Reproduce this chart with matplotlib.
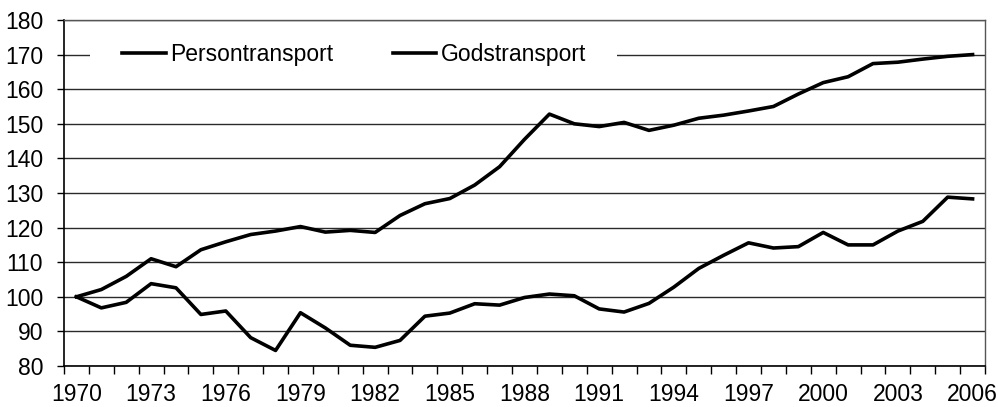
import numpy as np
import matplotlib.pyplot as plt
from matplotlib.patches import Rectangle

plt.rcParams['font.family'] = ['Liberation Sans', 'DejaVu Sans']

years = list(range(1970, 2007))
persontransport = [100, 102.1, 105.9, 111.0, 108.7, 113.6, 115.9, 118.0, 119.0, 120.3,
                   118.7, 119.2, 118.6, 123.5, 126.9, 128.4, 132.3, 137.6, 145.5, 152.8,
                   150.0, 149.2, 150.4, 148.1, 149.6, 151.6, 152.5, 153.7, 155.0, 158.6,
                   161.9, 163.6, 167.4, 167.8, 168.7, 169.5, 170.0]
godstransport = [100, 96.8, 98.4, 103.8, 102.6, 94.9, 95.9, 88.2, 84.5, 95.4,
                 91.0, 86.0, 85.4, 87.4, 94.4, 95.3, 98.0, 97.6, 99.8, 100.8,
                 100.3, 96.5, 95.6, 98.1, 102.8, 108.2, 112.0, 115.6, 114.1, 114.5,
                 118.6, 115.0, 115.0, 119.0, 121.8, 128.8, 128.3]
tick_years = list(range(1970, 2007, 3))
y_ticks = list(range(80, 181, 10))

fig = plt.figure(figsize=(9.98, 4.07), dpi=100)
ax = fig.add_axes([0.0641, 0.1007, 0.9229, 0.8502])

# horisontella stödlinjer
for v in y_ticks:
    ax.axhline(v, color='#2a2a2a', lw=1.0, zorder=1)

ax.plot(years, persontransport, color='black', lw=2.6, label='Persontransport', zorder=3)
ax.plot(years, godstransport, color='black', lw=2.6, label='Godstransport', zorder=3)

ax.set_xlim(1969.5, 2006.5)
ax.set_ylim(80, 180)
ax.set_yticks(y_ticks)
ax.set_xticks(tick_years)
ax.set_xticks(np.arange(1969.5, 2007, 1), minor=True)
ax.tick_params(axis='x', which='major', length=0, pad=12, labelsize=16.5)
ax.tick_params(axis='x', which='minor', length=6, width=1, direction='out')
ax.tick_params(axis='y', length=5, width=1, pad=10, labelsize=16.5)

for s in ['left', 'bottom']:
    ax.spines[s].set_color('black')
    ax.spines[s].set_linewidth(1.2)
for s in ['top', 'right']:
    ax.spines[s].set_color('#555555')
    ax.spines[s].set_linewidth(1.0)

# vit bakgrund bakom förklaringen
ax.add_patch(Rectangle((0.028, 0.855), 0.572, 0.09, transform=ax.transAxes,
                       facecolor='white', edgecolor='none', zorder=2))

leg = ax.legend(loc='center left', bbox_to_anchor=(0.063, 0.9), ncol=2,
                frameon=False, fontsize=16.5, handlelength=1.9, handletextpad=0.2,
                columnspacing=2.6, borderpad=0, borderaxespad=0)
leg.set_zorder(4)

fig.savefig('out.png', dpi=100)
